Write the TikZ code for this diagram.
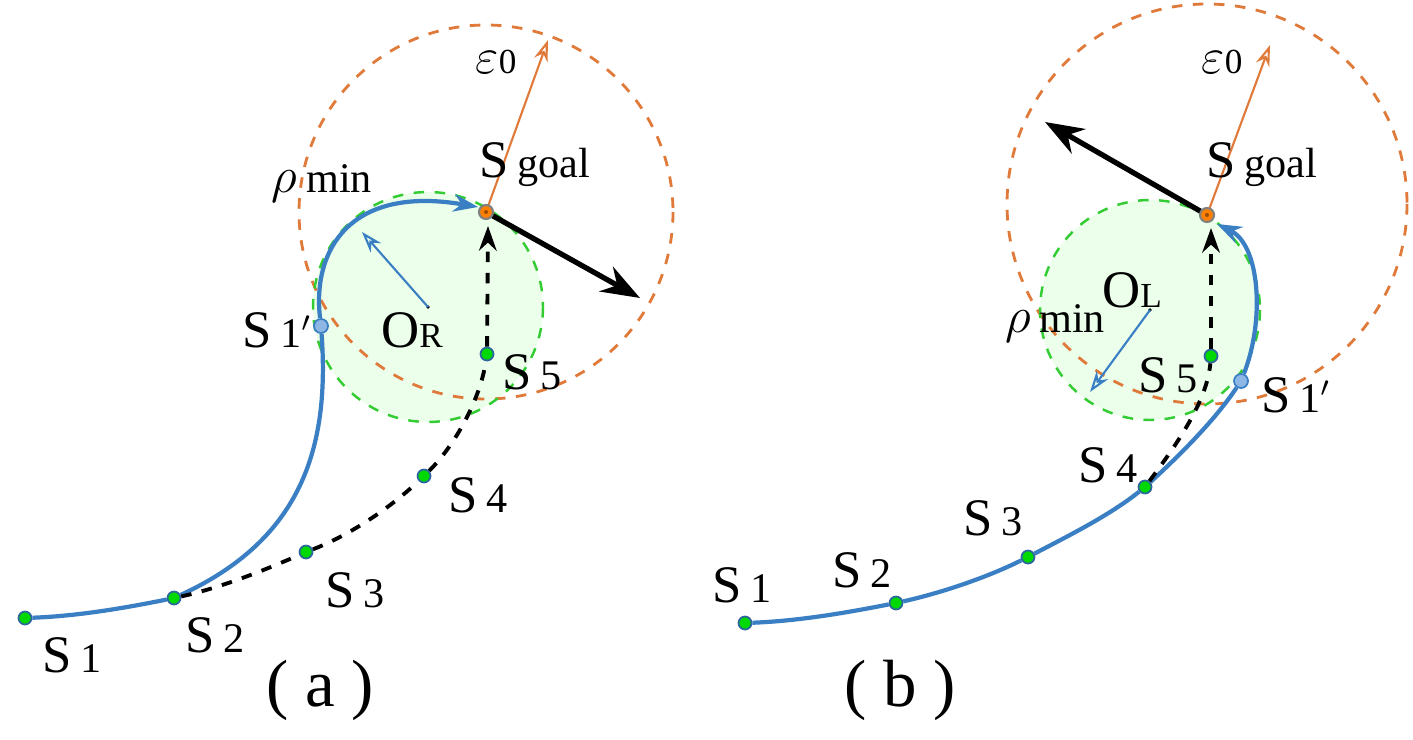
\documentclass[tikz,border=0pt]{standalone}
\usepackage{fontspec}
\setmainfont{Liberation Serif}
\usetikzlibrary{arrows.meta}
\definecolor{bl}{HTML}{3A7FC4}
\definecolor{org}{HTML}{E07A3A}
\definecolor{grn}{HTML}{33CC33}
\newcommand{\slab}[1]{S\,{\fontsize{12}{14}\selectfont #1}}
\begin{document}
\begin{tikzpicture}[x=0.01cm,y=-0.01cm,
 pt/.style={circle,draw=bl!80!black,fill=green!85!black,line width=0.5pt,inner sep=0pt,minimum size=0.13cm},
 pp/.style={circle,draw=bl,fill=cyan!60!blue!45,line width=0.5pt,inner sep=0pt,minimum size=0.14cm},
 gp/.style={circle,draw=gray,fill=orange,line width=0.6pt,inner sep=0pt,minimum size=0.14cm},
 lab/.style={font=\fontsize{15}{18}\selectfont,inner sep=0pt},
 oc/.style={draw=org,dashed,line width=0.8pt},
 gc/.style={draw=grn,dashed,line width=0.7pt},
 bp/.style={draw=bl,line width=1.2pt},
 dp/.style={draw=black,dashed,line width=1.1pt},
 ta/.style={-{Stealth[length=7pt,width=5pt]}}]
\useasboundingbox (0,0) rectangle (1413,740);
% ---------- (a)
\coordinate (ga) at (486,212);
\coordinate (ora) at (428,307);
\fill[green!8] (ora) circle (115);
\draw[oc] (ga) circle (187);
\draw[gc] (ora) circle (115);
\fill (ora) circle (1.8);
\coordinate (ea) at (548,40);
\coordinate (ka) at (640,298);
\coordinate (ra) at (362,232);
\draw[org,line width=0.6pt,-{Stealth[length=6pt,width=4pt,open]}] (ga) -- (ea);
\draw[line width=1.5pt,-{Stealth[length=11pt,width=8pt]}] (ga) -- (ka);
\draw[bl,line width=0.6pt,-{Stealth[length=6pt,width=4pt,open]}] (ora) -- (ra);
\node[pt] (a1) at (25,618) {};
\node[pt] (a2) at (174,598) {};
\node[pt] (a3) at (306,552) {};
\node[pt] (a4) at (424,476) {};
\node[pt] (a5) at (487,354) {};
\node[pp] (ap) at (321,326) {};
\draw[bp] (a1) .. controls (80,616) and (130,607) .. (a2);
\draw[bp] (a2) .. controls (300,540) and (330,450) .. (ap);
\draw[bp,ta] (ap) .. controls (312,250) and (350,185) .. (478,207);
\draw[dp] (a2) .. controls (220,588) and (265,570) .. (a3);
\draw[dp] (a3) .. controls (350,535) and (390,508) .. (a4);
\draw[dp] (a4) .. controls (455,445) and (480,400) .. (a5);
\draw[dp,ta] (a5) -- (488,226);
\node[gp] (ag) at (ga) {};
\fill[orange!60!black] (ga) circle (2);
\node[lab] at (72,655) {\slab1};
\node[lab] at (215,635) {\slab2};
\node[lab] at (355,590) {\slab3};
\node[lab] at (478,495) {\slab4};
\node[lab] at (532,372) {\slab5};
\node[lab] at (277,330) {\slab{1$'$}};
\node[lab] at (412,330) {O{\fontsize{10}{12}\selectfont R}};
\node[lab] at (322,183) {$\rho$\,{\fontsize{12}{14}\selectfont min}};
\node[lab] at (535,165) {\slab{goal}};
\node[lab] at (496,62) {$\varepsilon${\fontsize{10}{12}\selectfont 0}};
\node[lab,font=\fontsize{19}{22}\selectfont] at (320,690) {( a )};
% ---------- (b)
\coordinate (gb) at (1207,215);
\coordinate (ob) at (1150,310);
\fill[green!8] (ob) circle (110);
\draw[oc] (1207,204) circle (200);
\draw[gc] (ob) circle (110);
\fill (ob) circle (1.8);
\coordinate (eb) at (1270,45);
\coordinate (kb) at (1045,122);
\coordinate (rb) at (1090,392);
\draw[org,line width=0.6pt,-{Stealth[length=6pt,width=4pt,open]}] (gb) -- (eb);
\draw[line width=1.5pt,-{Stealth[length=11pt,width=8pt]}] (gb) -- (kb);
\draw[bl,line width=0.6pt,-{Stealth[length=6pt,width=4pt,open]}] (ob) -- (rb);
\node[pt] (b1) at (745,623) {};
\node[pt] (b2) at (896,603) {};
\node[pt] (b3) at (1028,557) {};
\node[pt] (b4) at (1145,487) {};
\node[pt] (b5) at (1211,356) {};
\node[pp] (bp) at (1241,381) {};
\draw[bp] (b1) .. controls (800,621) and (850,612) .. (b2);
\draw[bp] (b2) .. controls (945,592) and (990,576) .. (b3);
\draw[bp] (b3) .. controls (1070,535) and (1110,515) .. (b4);
\draw[bp] (b4) .. controls (1180,455) and (1215,420) .. (bp);
\draw[bp,ta] (bp) .. controls (1265,320) and (1260,245) .. (1217,224);
\draw[dp] (b4) .. controls (1180,440) and (1207,400) .. (b5);
\draw[dp,ta] (b5) -- (1211,228);
\node[gp] (bg) at (gb) {};
\fill[orange!60!black] (gb) circle (2);
\node[lab] at (742,585) {\slab1};
\node[lab] at (862,570) {\slab2};
\node[lab] at (993,518) {\slab3};
\node[lab] at (1108,465) {\slab4};
\node[lab] at (1168,375) {\slab5};
\node[lab] at (1296,395) {\slab{1$'$}};
\node[lab] at (1132,290) {O{\fontsize{10}{12}\selectfont L}};
\node[lab] at (1055,323) {$\rho$\,{\fontsize{12}{14}\selectfont min}};
\node[lab] at (1262,165) {\slab{goal}};
\node[lab] at (1222,62) {$\varepsilon${\fontsize{10}{12}\selectfont 0}};
\node[lab,font=\fontsize{19}{22}\selectfont] at (900,690) {( b )};
\end{tikzpicture}
\end{document}
